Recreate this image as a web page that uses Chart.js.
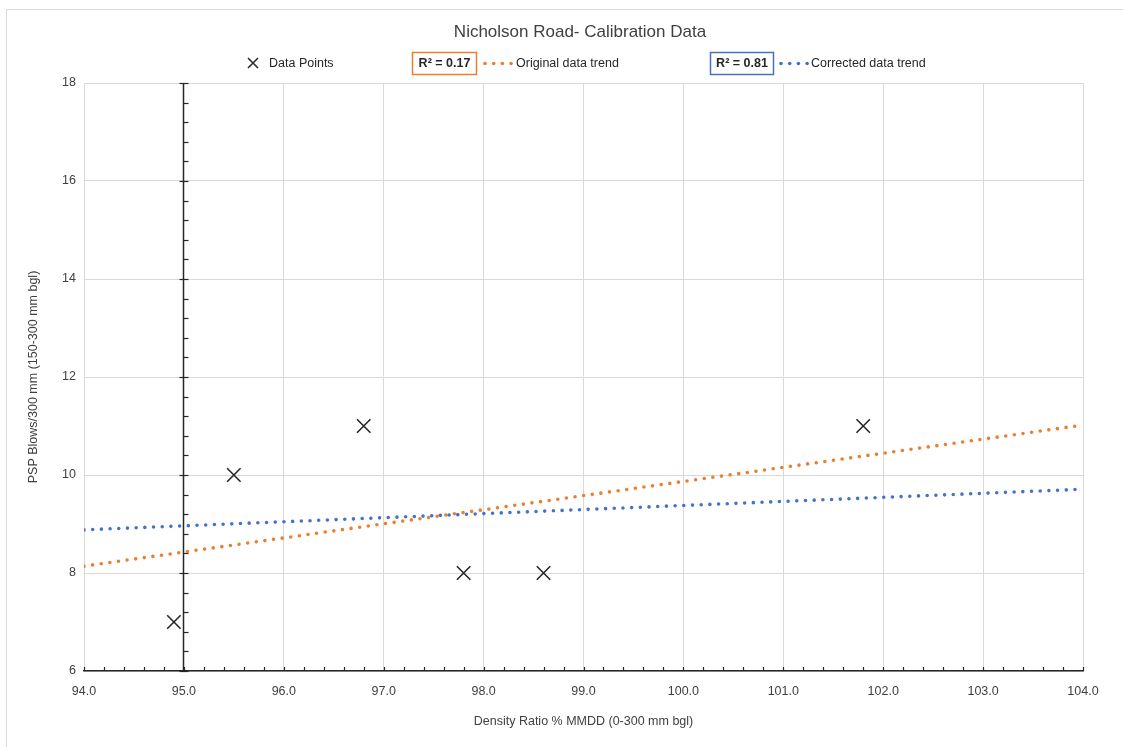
<!DOCTYPE html>
<html>
<head>
<meta charset="utf-8">
<script src="https://cdn.jsdelivr.net/npm/chart.js@4.4.1/dist/chart.umd.min.js"></script>
<style>
  body { margin: 0; background: #fff; }
  #marco { position: absolute; left: 6px; top: 9px; width: 1200px; height: 800px; border: 1px solid #d9d9d9; }
  #caja { position: absolute; left: 0; top: 0; width: 1123px; height: 747px; }
</style>
</head>
<body>
<div id="marco"></div>
<div id="caja"><canvas id="grafico" width="1123" height="747"></canvas></div>
<script>
// datos
const razonDensidad = [94.9, 95.5, 96.8, 97.8, 98.6, 101.8];
const golpesPSP = [7, 10, 11, 8, 8, 11];
const xTendencia = [94, 104];
const tendenciaOriginal = [8.14, 11.02];
const tendenciaCorregida = [8.88, 9.71];
const nombresSeries = ['Data Points', 'Original data trend', 'Corrected data trend'];
const etiquetasR2 = ['R\u00b2 = 0.17', 'R\u00b2 = 0.81'];
const titulo = 'Nicholson Road- Calibration Data';
const cruceEjeY = 95;

const naranja = '#ED7D31';
const azul = '#4472C4';
const fuente = '"Liberation Sans", Arial, sans-serif';

const aPuntos = (xs, ys) => xs.map((x, i) => ({ x: x, y: ys[i] }));

// eje vertical cruzando en x=95, marcas menores y leyenda propia
const extras = {
    id: 'extras',
    beforeDatasetsDraw(chart) {
        const ctx = chart.ctx;
        const sx = chart.scales.x, sy = chart.scales.y;
        ctx.save();
        ctx.strokeStyle = '#262626';
        ctx.lineWidth = 1.5;
        const px = Math.floor(sx.getPixelForValue(cruceEjeY)) + 0.5;
        ctx.beginPath();
        ctx.moveTo(px, sy.top);
        ctx.lineTo(px, sy.bottom);
        ctx.stroke();
        ctx.lineWidth = 1.2;
        for (let i = 0; i <= 30; i++) {
            const v = 6 + i * 0.4;
            const py = Math.round(sy.getPixelForValue(v)) + 0.5;
            const mayor = i % 5 === 0;
            ctx.beginPath();
            ctx.moveTo(mayor ? px - 4 : px, py);
            ctx.lineTo(px + 5, py);
            ctx.stroke();
        }
        for (let i = 0; i <= 50; i++) {
            const v = 94 + i * 0.2;
            const qx = Math.round(sx.getPixelForValue(v)) + 0.5;
            ctx.beginPath();
            ctx.moveTo(qx, sy.bottom);
            ctx.lineTo(qx, sy.bottom - 4);
            ctx.stroke();
        }
        ctx.restore();
    },
    afterDraw(chart) {
        const ctx = chart.ctx;
        ctx.save();
        ctx.fillStyle = '#404040';
        ctx.font = '17px ' + fuente;
        ctx.textAlign = 'center';
        ctx.textBaseline = 'middle';
        ctx.fillText(titulo, 580, 32);

        const ly = 63;
        ctx.font = '12.5px ' + fuente;
        ctx.textAlign = 'left';
        // marcador de datos
        ctx.strokeStyle = '#262626';
        ctx.lineWidth = 1.5;
        ctx.beginPath();
        ctx.moveTo(248, ly - 5); ctx.lineTo(258, ly + 5);
        ctx.moveTo(258, ly - 5); ctx.lineTo(248, ly + 5);
        ctx.stroke();
        ctx.fillStyle = '#262626';
        ctx.fillText(nombresSeries[0], 269, ly + 1);

        const cajas = [
            { x: 412, w: 64, color: naranja, texto: etiquetasR2[0], l0: 485, l1: 513, nombre: nombresSeries[1] },
            { x: 710, w: 63, color: azul, texto: etiquetasR2[1], l0: 781, l1: 808, nombre: nombresSeries[2] }
        ];
        cajas.forEach(c => {
            ctx.strokeStyle = c.color;
            ctx.lineWidth = 1.5;
            ctx.strokeRect(c.x + 0.5, 52.5, c.w, 22);
            ctx.font = 'bold 12.5px ' + fuente;
            ctx.fillStyle = '#262626';
            ctx.textAlign = 'center';
            ctx.fillText(c.texto, c.x + c.w / 2 + 0.5, ly + 1);
            ctx.fillStyle = c.color;
            for (let d = c.l0; d <= c.l1; d += 8.7) {
                ctx.beginPath();
                ctx.arc(d, ly + 0.5, 1.8, 0, Math.PI * 2);
                ctx.fill();
            }
            ctx.font = '12.5px ' + fuente;
            ctx.fillStyle = '#262626';
            ctx.textAlign = 'left';
            ctx.fillText(c.nombre, c.l1 + 3, ly + 1);
        });
        ctx.restore();
    }
};

const contexto = document.getElementById('grafico').getContext('2d');
const grafico = new Chart(contexto, {
    type: 'scatter',
    data: {
        datasets: [
            {
                label: nombresSeries[0],
                data: aPuntos(razonDensidad, golpesPSP),
                pointStyle: 'crossRot',
                pointRadius: 9.5,
                pointBorderWidth: 1.6,
                borderColor: '#262626',
                backgroundColor: '#262626',
                showLine: false,
                order: 0
            },
            {
                label: nombresSeries[1],
                data: aPuntos(xTendencia, tendenciaOriginal),
                showLine: true,
                borderColor: naranja,
                borderWidth: 3.6,
                borderDash: [0, 8.7],
                borderCapStyle: 'round',
                pointRadius: 0,
                order: 2
            },
            {
                label: nombresSeries[2],
                data: aPuntos(xTendencia, tendenciaCorregida),
                showLine: true,
                borderColor: azul,
                borderWidth: 3.6,
                borderDash: [0, 8.7],
                borderCapStyle: 'round',
                pointRadius: 0,
                order: 1
            }
        ]
    },
    options: {
        responsive: false,
        animation: false,
        layout: { padding: { top: 83, right: 40, left: 0, bottom: 0 } },
        plugins: {
            legend: { display: false },
            title: { display: false },
            tooltip: { enabled: false }
        },
        scales: {
            x: {
                type: 'linear',
                min: 94,
                max: 104,
                afterFit: escala => { escala.height = 76; },
                ticks: {
                    stepSize: 1,
                    padding: 13,
                    color: '#404040',
                    font: { family: fuente, size: 12.5 },
                    callback: v => v.toFixed(1),
                    maxRotation: 0
                },
                grid: { color: '#d9d9d9', lineWidth: 1, drawTicks: false },
                border: { color: '#262626', width: 1.5 },
                title: {
                    display: true,
                    text: 'Density Ratio % MMDD (0-300 mm bgl)',
                    color: '#404040',
                    font: { family: fuente, size: 12.5 },
                    padding: { top: 0, bottom: 18 }
                }
            },
            y: {
                min: 6,
                max: 18,
                afterFit: escala => { escala.width = 84; },
                ticks: {
                    stepSize: 2,
                    padding: 8,
                    color: '#404040',
                    font: { family: fuente, size: 12.5 }
                },
                grid: { color: '#d9d9d9', lineWidth: 1, drawTicks: false },
                border: { display: false },
                title: {
                    display: true,
                    text: 'PSP Blows/300 mm (150-300 mm bgl)',
                    color: '#404040',
                    font: { family: fuente, size: 12.5 },
                    padding: { top: 26, bottom: 0 }
                }
            }
        }
    },
    plugins: [extras]
});
</script>
</body>
</html>
